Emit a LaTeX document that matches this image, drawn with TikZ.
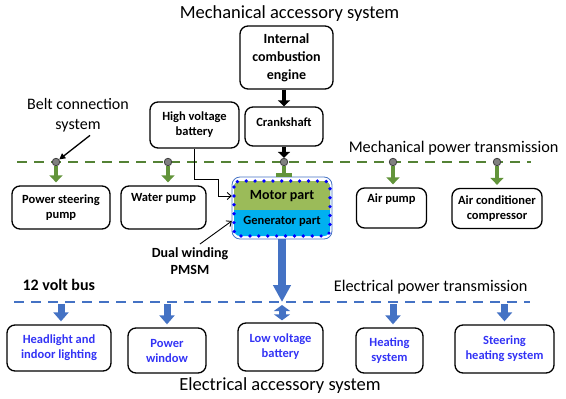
\documentclass[tikz,border=0pt]{standalone}
\usepackage{fontspec}
\setmainfont{Carlito}
\usetikzlibrary{arrows.meta}
\definecolor{gdash}{RGB}{84,130,53}
\definecolor{garr}{RGB}{98,148,58}
\definecolor{eblue}{RGB}{68,114,196}
\definecolor{etext}{RGB}{51,51,245}
\definecolor{motorg}{RGB}{155,187,89}
\definecolor{gencyan}{RGB}{0,176,240}
\definecolor{beltgray}{RGB}{128,128,128}
\begin{document}
\begin{tikzpicture}[x=1pt,y=-1pt,
  box/.style={draw=black, line width=1.3pt, rounded corners=8pt, align=center,
    font=\fontsize{12.5}{15}\selectfont\bfseries, inner sep=0pt},
  ebox/.style={box, text=etext},
  title/.style={font=\fontsize{18.5}{22}\selectfont},
  lbl/.style={font=\fontsize{16.3}{20}\selectfont},
  belt/.style={circle, draw=black!75, fill=beltgray, line width=0.8pt, inner sep=0pt, minimum size=7.5pt},
  gdashed/.style={draw=gdash, line width=2.6pt, dash pattern=on 10pt off 7pt},
  edashed/.style={draw=eblue, line width=2.6pt, dash pattern=on 10pt off 7pt},
  garrow/.style={draw=garr, line width=4.5pt, -{Triangle[length=7pt,width=13pt]}},
  barrow/.style={draw=eblue, line width=7pt, -{Triangle[length=9pt,width=15pt]}},
  karrow/.style={draw=black, line width=4pt, -{Triangle[length=6pt,width=12pt]}},
  thinarrow/.style={draw=black, line width=0.9pt, -{Straight Barb[length=4pt,width=7pt]}}
]
\useasboundingbox (0,0) rectangle (566,399);

% titles and labels
\node[title] (t1) at (289.5,14) {Mechanical accessory system};
\node[title] (t2) at (280,386) {Electrical accessory system};
\node[lbl, anchor=east] (mpt) at (562,148) {Mechanical power transmission};
\node[lbl, anchor=east] (ept) at (531,287) {Electrical power transmission};
\node[font=\fontsize{16}{20}\selectfont\bfseries, anchor=west] (vb) at (19,285) {12 volt bus};
\node[font=\fontsize{16}{20}\selectfont, align=center] (bc) at (78,115) {Belt connection\\system};
\node[align=center, font=\fontsize{14}{17}\selectfont\bfseries] (dw) at (190,261) {Dual winding\\PMSM};

% mechanical boxes
\node[box, minimum width=93pt, minimum height=63pt, font=\fontsize{14}{18}\selectfont\bfseries] (ice) at (286.5,57.5) {Internal\\combustion\\engine};
\node[box, minimum width=78pt, minimum height=39pt, text depth=8pt] (crank) at (284,126.5) {Crankshaft};
\node[box, minimum width=89pt, minimum height=46pt] (hvb) at (194.5,125) {High voltage\\battery};
\node[box, minimum width=98pt, minimum height=43pt] (psp) at (61,207.5) {Power steering\\pump};
\node[box, minimum width=85pt, minimum height=43pt] (wp) at (163.5,207.5) {Water pump\\\strut};
\node[box, minimum width=70pt, minimum height=40pt] (ap) at (391.5,208) {Air pump\\\strut};
\node[box, minimum width=90pt, minimum height=40pt] (acc) at (497,208.5) {Air conditioner\\compressor};

% electrical boxes
\node[ebox, minimum width=104pt, minimum height=46pt] (hl) at (59,348) {Headlight and\\indoor lighting};
\node[ebox, minimum width=78pt, minimum height=45pt] (pw) at (167,350.5) {Power\\window};
\node[ebox, minimum width=85pt, minimum height=48pt] (lvb) at (280.5,347) {Low voltage\\battery};
\node[ebox, minimum width=67pt, minimum height=45pt] (hs) at (389.5,350.5) {Heating\\system};
\node[ebox, minimum width=99pt, minimum height=48pt] (shs) at (504.5,349) {Steering\\heating system};

% PMSM
\node[draw=eblue, line width=0.8pt, rounded corners=8pt, minimum width=100pt, minimum height=62pt, inner sep=0pt] (pmsm) at (282,208) {};
\fill[gencyan, rounded corners=6pt] (234,181) rectangle (330,236);
\begin{scope}
  \clip (228,175) rectangle (336,209);
  \fill[motorg, rounded corners=6pt] (234,181) rectangle (330,236);
\end{scope}
\draw[blue, line width=3.7pt, line cap=round, dash pattern=on 0pt off 8.9pt, rounded corners=6pt] (234,181) rectangle (330,236);
\node[font=\fontsize{14}{17}\selectfont\bfseries, minimum width=100pt, inner sep=0pt] (motor) at (282,196) {Motor part};
\node[font=\fontsize{12.5}{15}\selectfont\bfseries, minimum width=100pt, inner sep=0pt] (gen) at (282,221) {Generator part};

% mechanical transmission line
\coordinate (gl) at (17,162);
\coordinate (gr) at (531,162);
\draw[gdashed] (gl) -- (gr);
\node[belt] (c1) at (56,162) {};
\node[belt] (c2) at (168,162) {};
\node[belt] (c3) at (284,162) {};
\node[belt] (c4) at (393,162) {};
\node[belt] (c5) at (497,162) {};

\draw[karrow] (crank.north |- ice.south) -- (crank.north);
\draw[karrow] (crank.south) -- (c3);
\draw[line width=1.3pt, -{Triangle[length=6pt,width=6pt]}] ([xshift=12pt]bc.south) -- (c1);

\draw[garrow, shorten >=3pt] (c1) -- (c1 |- psp.north);
\draw[garrow, shorten >=3pt] (c2) -- (c2 |- wp.north);
\draw[garrow, shorten >=3pt] (c4) -- (c4 |- ap.north);
\draw[garrow, shorten >=3pt] (c5) -- (c5 |- acc.north);
\draw[draw=garr, line width=4.5pt, -{Bar[width=16pt,line width=4pt]}] (c3) -- (c3 |- pmsm.north);

\draw[thinarrow] (hvb.south) |- (218,179) |- (motor.west);
\draw[thinarrow] ([xshift=10pt]dw.north) -- (gen.west);

% electrical bus
\coordinate (bl) at (14,302);
\coordinate (br) at (530,302);
\draw[edashed] (bl) -- (br);
\draw[draw=eblue, line width=8pt, -{Triangle[length=17pt,width=17pt]}] (pmsm.south) -- (pmsm.south |- bl);

\draw[barrow, shorten >=3pt, shorten <=2pt] ([xshift=2pt]hl.north |- bl) -- ([xshift=2pt]hl.north);
\draw[barrow, shorten >=3pt, shorten <=2pt] (pw.north |- bl) -- (pw.north);
\draw[barrow, {Triangle[length=6pt,width=16pt]}-{Triangle[length=6pt,width=16pt]}, shorten >=2pt, shorten <=3pt] ([xshift=1.5pt]lvb.north |- bl) -- ([xshift=1.5pt]lvb.north);
\draw[barrow, shorten >=3pt, shorten <=2pt] ([xshift=3.5pt]hs.north |- bl) -- ([xshift=3.5pt]hs.north);
\draw[barrow, shorten >=3pt, shorten <=2pt] (shs.north |- bl) -- (shs.north);
\end{tikzpicture}
\end{document}
